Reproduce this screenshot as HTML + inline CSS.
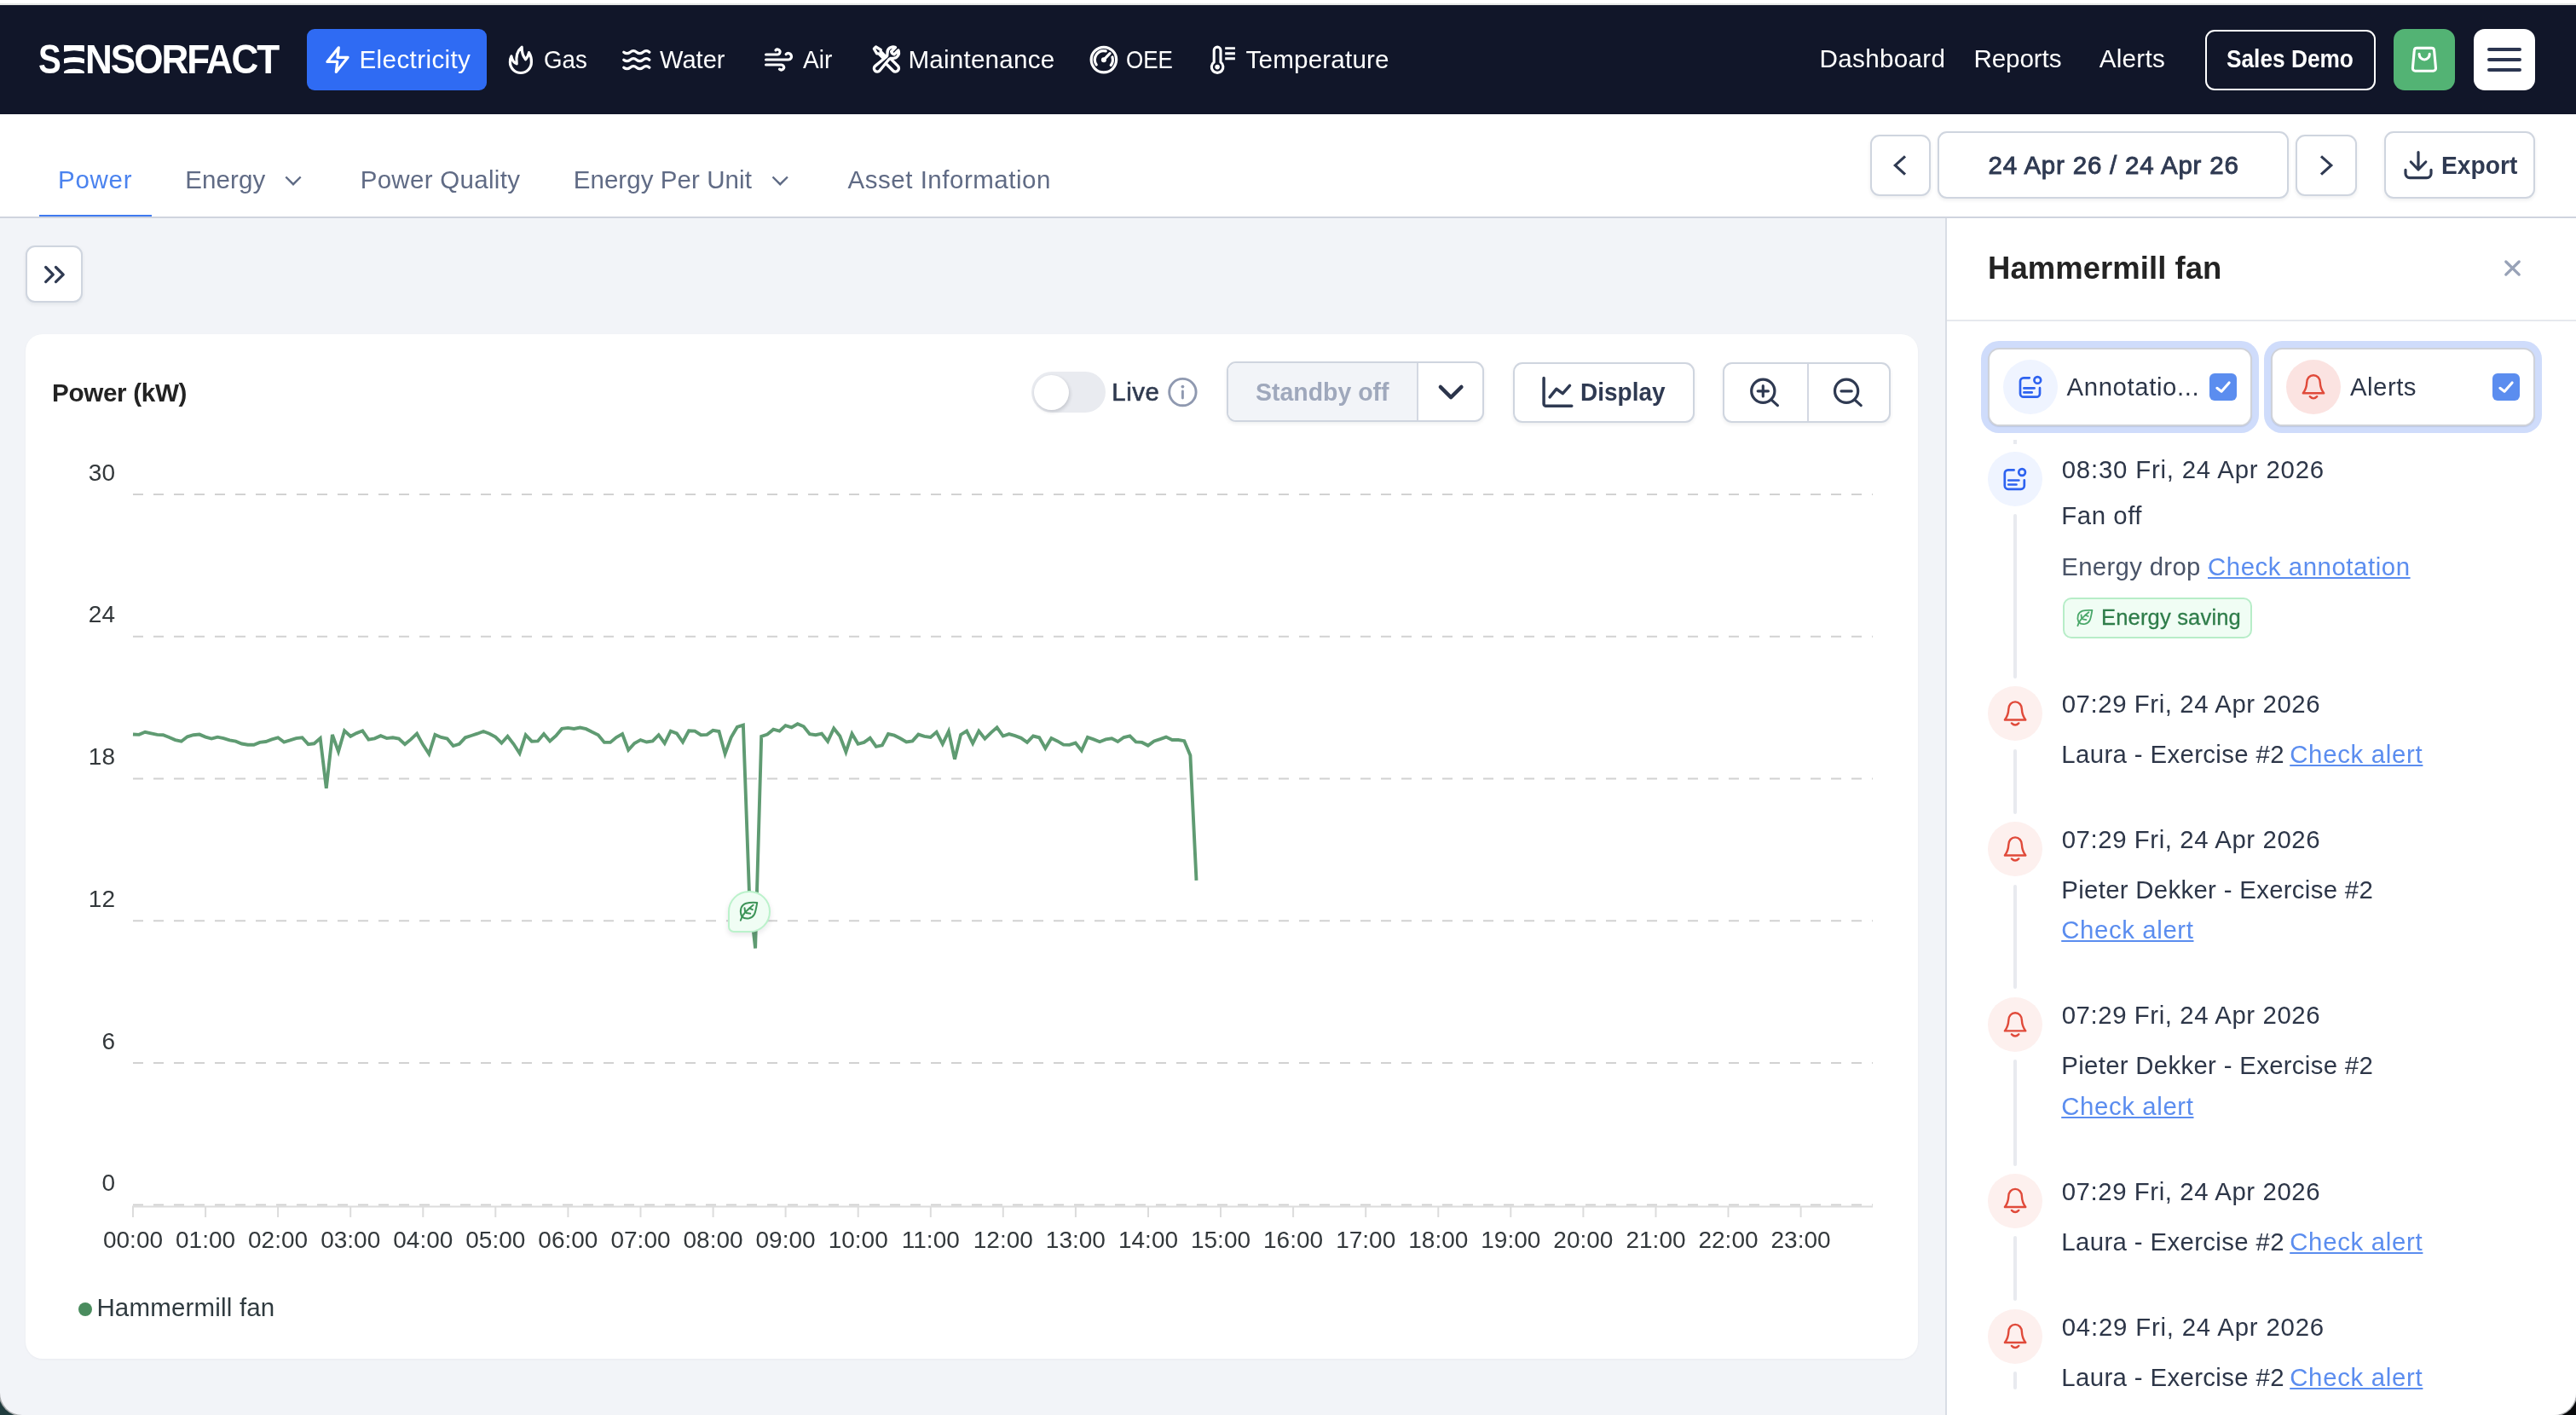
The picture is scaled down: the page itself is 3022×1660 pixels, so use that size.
<!DOCTYPE html><html><head><meta charset="utf-8"><title>Sensorfact</title><style>

*{box-sizing:border-box;margin:0;padding:0}
html,body{width:3022px;height:1660px;overflow:hidden;background:linear-gradient(90deg,#213d3f 0,#1a2f33 3%,#0b0d10 60%,#08090b 100%)}
body{font-family:"Liberation Sans",sans-serif;position:relative}
.abs{position:absolute}
#win{will-change:transform;position:absolute;left:0;top:0;width:3022px;height:1660px;overflow:hidden;background:#f2f4f8;border-radius:0 0 26px 26px;box-shadow:0 0 0 1.6px #a9abad}
.t{position:absolute;white-space:nowrap;line-height:1}
.u{text-decoration:underline;text-decoration-thickness:2px;text-underline-offset:2.4px}
.btn{position:absolute;background:#fff;border:2px solid #cfd5df;border-radius:11px;box-shadow:0 2px 4px rgba(16,24,40,.07)}
.ring{position:absolute;border-radius:21px;background:#cfdcfb}
.card{position:absolute;background:#fff;border:2px solid #cfd2d9;border-radius:13.5px;box-shadow:0 1px 1px rgba(16,24,40,.10)}
.circ{position:absolute;width:64px;height:64px;border-radius:50%}
.vl{position:absolute;left:2361.5px;width:4px;background:#e8eaef;border-radius:2px}
.cb{position:absolute;width:32px;height:32px;border-radius:6px;background:#5b8def}
svg{position:absolute;overflow:visible}
.ic{fill:none;stroke-linecap:round;stroke-linejoin:round}

</style></head><body><div id="win">
<div class="abs" style="left:0;top:0;width:3022px;height:6px;background:linear-gradient(#fff 0,#fff 3.8px,#e3e5e3 4.2px,#e6e8e6 5.6px,#050a1c 6px)"></div>
<div class="abs" style="left:0;top:6px;width:3022px;height:128px;background:#111629"></div>
<div class="abs" style="left:360px;top:34px;width:211px;height:72px;background:#2f6bf3;border-radius:9px"></div>
<div class="abs" style="left:2587px;top:34.5px;width:200px;height:71px;border:2.5px solid #fff;border-radius:11px"></div>
<div class="abs" style="left:2808px;top:34px;width:72px;height:72px;background:#53b374;border-radius:13px"></div>
<div class="abs" style="left:2902px;top:34px;width:72px;height:72px;background:#fff;border-radius:13px"></div>
<div class="abs" style="left:2918px;top:56.1px;width:40px;height:4.4px;background:#2b3550;border-radius:2px"></div>
<div class="abs" style="left:2918px;top:68.0px;width:40px;height:4.4px;background:#2b3550;border-radius:2px"></div>
<div class="abs" style="left:2918px;top:79.9px;width:40px;height:4.4px;background:#2b3550;border-radius:2px"></div>
<div class="abs" style="left:0;top:134px;width:3022px;height:121.9px;background:#fff;border-bottom:2px solid #cfd4de"></div>
<div class="abs" style="left:46px;top:251.8px;width:132px;height:2.2px;background:#3f7af0"></div>
<div class="btn" style="left:2193.5px;top:158.3px;width:71.2px;height:71.4px"></div>
<div class="btn" style="left:2273.3px;top:154.2px;width:411.3px;height:79.3px"></div>
<div class="btn" style="left:2693.4px;top:158.3px;width:71.2px;height:71.4px"></div>
<div class="btn" style="left:2797.4px;top:154.2px;width:176.2px;height:79.3px"></div>
<div class="btn" style="left:30.4px;top:288.4px;width:66.9px;height:66.9px"></div>
<div class="abs" style="left:30px;top:392px;width:2219.8px;height:1201.5px;background:#fff;border-radius:20px;box-shadow:0 1px 3px rgba(16,24,40,.04)"></div>
<div class="abs" style="left:1209.5px;top:436px;width:87px;height:48px;border-radius:24px;background:#e9ebf0"></div>
<div class="abs" style="left:1212.5px;top:439.5px;width:41px;height:41px;border-radius:50%;background:#fff;box-shadow:1px 2px 4px rgba(16,24,40,.18)"></div>
<div class="btn" style="left:1439.2px;top:424.2px;width:302.2px;height:71.3px;overflow:hidden"><div style="position:absolute;left:0;top:0;width:223.3px;height:100%;background:#f2f4f8;border-right:2px solid #d3d8e2"></div></div>
<div class="btn" style="left:1774.5px;top:424.5px;width:213.5px;height:71px"></div>
<div class="btn" style="left:2020.5px;top:424.5px;width:197px;height:71px"><div style="position:absolute;left:97px;top:0;width:2px;height:100%;background:#d3d8e2"></div></div>
<div class="abs" style="left:92px;top:1528px;width:16px;height:16px;border-radius:50%;background:#4a8c5e"></div>
<div class="abs" style="left:2281.5px;top:255.9px;width:741px;height:1405px;background:#fff;border-left:2.5px solid #d9dde5"></div>
<div class="abs" style="left:2284px;top:374.5px;width:738px;height:2.5px;background:#e6e9ee"></div>
<div class="ring" style="left:2323.9px;top:400.1px;width:326px;height:107.8px"></div>
<div class="ring" style="left:2655.9px;top:400.1px;width:326px;height:107.8px"></div>
<div class="card" style="left:2331.9px;top:408.1px;width:310px;height:91.8px"></div>
<div class="card" style="left:2663.9px;top:408.1px;width:310px;height:91.8px"></div>
<div class="circ" style="left:2350px;top:422px;background:#eff4ff"></div>
<div class="circ" style="left:2682px;top:422px;background:#fbe3e1"></div>
<div class="cb" style="left:2592px;top:438px"></div>
<div class="cb" style="left:2924px;top:438px"></div>
<div class="vl" style="top:516.0px;height:4.7px;border-radius:0"></div>
<div class="vl" style="top:603.0px;height:193.0px"></div>
<div class="vl" style="top:878.7px;height:76.3px"></div>
<div class="vl" style="top:1037.7px;height:122.8px"></div>
<div class="vl" style="top:1243.2px;height:125.1px"></div>
<div class="vl" style="top:1450.1px;height:76.3px"></div>
<div class="vl" style="top:1609.0px;height:21.3px"></div>
<div class="circ" style="left:2331.5px;top:530px;background:#eff4ff"></div>
<div class="circ" style="left:2331.5px;top:805.1px;background:#fdf0ee"></div>
<div class="circ" style="left:2331.5px;top:964.1px;background:#fdf0ee"></div>
<div class="circ" style="left:2331.5px;top:1170.0px;background:#fdf0ee"></div>
<div class="circ" style="left:2331.5px;top:1376.6px;background:#fdf0ee"></div>
<div class="circ" style="left:2331.5px;top:1535.6px;background:#fdf0ee"></div>
<div class="abs" style="left:2420px;top:701px;width:222px;height:47.7px;background:#f0fdf4;border:2px solid #b7edc8;border-radius:10px"></div>
<svg class="abs" style="left:0;top:0" width="2283" height="1660" viewBox="0 0 2283 1660">
<line x1="156" x2="2197" y1="580.0" y2="580.0" stroke="#d2d2d2" stroke-width="2" stroke-dasharray="12 12"/>
<line x1="156" x2="2197" y1="746.8" y2="746.8" stroke="#d2d2d2" stroke-width="2" stroke-dasharray="12 12"/>
<line x1="156" x2="2197" y1="913.5" y2="913.5" stroke="#d2d2d2" stroke-width="2" stroke-dasharray="12 12"/>
<line x1="156" x2="2197" y1="1080.3" y2="1080.3" stroke="#d2d2d2" stroke-width="2" stroke-dasharray="12 12"/>
<line x1="156" x2="2197" y1="1247.0" y2="1247.0" stroke="#d2d2d2" stroke-width="2" stroke-dasharray="12 12"/>
<line x1="156" x2="2197" y1="1413.5" y2="1413.5" stroke="#d2d2d2" stroke-width="2" stroke-dasharray="12 12"/>
<line x1="155" x2="2197" y1="1415.5" y2="1415.5" stroke="#dcdcdc" stroke-width="2"/>
<line x1="156.0" x2="156.0" y1="1415" y2="1428" stroke="#dcdcdc" stroke-width="2"/>
<line x1="241.1" x2="241.1" y1="1415" y2="1428" stroke="#dcdcdc" stroke-width="2"/>
<line x1="326.1" x2="326.1" y1="1415" y2="1428" stroke="#dcdcdc" stroke-width="2"/>
<line x1="411.2" x2="411.2" y1="1415" y2="1428" stroke="#dcdcdc" stroke-width="2"/>
<line x1="496.3" x2="496.3" y1="1415" y2="1428" stroke="#dcdcdc" stroke-width="2"/>
<line x1="581.3" x2="581.3" y1="1415" y2="1428" stroke="#dcdcdc" stroke-width="2"/>
<line x1="666.4" x2="666.4" y1="1415" y2="1428" stroke="#dcdcdc" stroke-width="2"/>
<line x1="751.5" x2="751.5" y1="1415" y2="1428" stroke="#dcdcdc" stroke-width="2"/>
<line x1="836.6" x2="836.6" y1="1415" y2="1428" stroke="#dcdcdc" stroke-width="2"/>
<line x1="921.6" x2="921.6" y1="1415" y2="1428" stroke="#dcdcdc" stroke-width="2"/>
<line x1="1006.7" x2="1006.7" y1="1415" y2="1428" stroke="#dcdcdc" stroke-width="2"/>
<line x1="1091.8" x2="1091.8" y1="1415" y2="1428" stroke="#dcdcdc" stroke-width="2"/>
<line x1="1176.8" x2="1176.8" y1="1415" y2="1428" stroke="#dcdcdc" stroke-width="2"/>
<line x1="1261.9" x2="1261.9" y1="1415" y2="1428" stroke="#dcdcdc" stroke-width="2"/>
<line x1="1347.0" x2="1347.0" y1="1415" y2="1428" stroke="#dcdcdc" stroke-width="2"/>
<line x1="1432.0" x2="1432.0" y1="1415" y2="1428" stroke="#dcdcdc" stroke-width="2"/>
<line x1="1517.1" x2="1517.1" y1="1415" y2="1428" stroke="#dcdcdc" stroke-width="2"/>
<line x1="1602.2" x2="1602.2" y1="1415" y2="1428" stroke="#dcdcdc" stroke-width="2"/>
<line x1="1687.3" x2="1687.3" y1="1415" y2="1428" stroke="#dcdcdc" stroke-width="2"/>
<line x1="1772.3" x2="1772.3" y1="1415" y2="1428" stroke="#dcdcdc" stroke-width="2"/>
<line x1="1857.4" x2="1857.4" y1="1415" y2="1428" stroke="#dcdcdc" stroke-width="2"/>
<line x1="1942.5" x2="1942.5" y1="1415" y2="1428" stroke="#dcdcdc" stroke-width="2"/>
<line x1="2027.5" x2="2027.5" y1="1415" y2="1428" stroke="#dcdcdc" stroke-width="2"/>
<line x1="2112.6" x2="2112.6" y1="1415" y2="1428" stroke="#dcdcdc" stroke-width="2"/>
<polyline fill="none" stroke="#5f9b72" stroke-width="3.9" stroke-linejoin="miter" points="156.0,861.5 163.1,861.9 170.2,858.8 177.3,860.4 184.4,861.9 191.4,862.2 198.5,865.0 205.6,868.1 212.7,869.7 219.8,864.3 226.9,862.2 234.0,861.6 241.1,864.6 248.1,866.6 255.2,864.7 262.3,866.1 269.4,868.4 276.5,869.7 283.6,872.5 290.7,873.7 297.8,873.7 304.8,870.9 311.9,870.0 319.0,867.4 326.1,865.3 333.2,870.5 340.3,868.4 347.4,866.1 354.5,865.3 361.6,873.1 368.6,872.3 375.7,866.1 382.8,924.8 389.9,861.9 397.0,881.6 404.1,857.3 411.2,863.8 418.3,860.1 425.3,857.3 432.4,867.7 439.5,866.3 446.6,863.2 453.7,866.1 460.8,865.3 467.9,866.6 475.0,873.1 482.0,867.4 489.1,860.7 496.2,873.6 503.3,884.4 510.4,861.9 517.5,865.0 524.6,866.6 531.7,875.1 538.8,872.8 545.8,865.3 552.9,863.0 560.0,860.7 567.1,858.0 574.2,860.7 581.3,864.6 588.4,871.7 595.5,863.8 602.5,872.8 609.6,883.7 616.7,862.2 623.8,869.7 630.9,869.4 638.0,861.1 645.1,869.4 652.2,863.2 659.2,854.9 666.3,853.9 673.4,854.9 680.5,853.5 687.6,855.2 694.7,858.8 701.8,862.2 708.9,870.9 716.0,870.9 723.0,865.0 730.1,861.1 737.2,879.8 744.3,872.0 751.4,868.1 758.5,870.5 765.6,869.4 772.7,862.2 779.7,872.0 786.8,857.6 793.9,860.4 801.0,870.5 808.1,857.3 815.2,857.6 822.3,862.2 829.4,861.9 836.4,856.8 843.5,858.0 850.6,884.4 857.7,865.0 864.8,852.9 871.9,850.7 879.0,1048.0 886.1,1112.5 893.2,863.8 900.2,861.5 907.3,855.7 914.4,857.6 921.5,851.1 928.6,853.4 935.7,849.2 942.8,852.3 949.9,861.1 956.9,862.2 964.0,860.7 971.1,869.7 978.2,854.5 985.3,863.5 992.4,882.1 999.5,860.7 1006.6,872.8 1013.6,870.9 1020.7,865.8 1027.8,875.9 1034.9,874.3 1042.0,861.1 1049.1,862.7 1056.2,866.3 1063.3,870.5 1070.4,869.4 1077.4,861.6 1084.5,863.8 1091.6,865.0 1098.7,858.8 1105.8,872.8 1112.9,858.0 1120.0,890.7 1127.1,861.9 1134.1,857.6 1141.2,872.0 1148.3,857.6 1155.4,866.6 1162.5,859.6 1169.6,853.4 1176.7,863.5 1183.8,861.1 1190.8,863.2 1197.9,865.8 1205.0,870.9 1212.1,863.5 1219.2,865.3 1226.3,877.8 1233.4,866.1 1240.5,869.4 1247.6,873.6 1254.6,873.9 1261.7,871.6 1268.8,880.6 1275.9,865.0 1283.0,867.4 1290.1,870.2 1297.2,867.4 1304.3,866.3 1311.3,870.0 1318.4,865.0 1325.5,863.3 1332.6,870.4 1339.7,870.9 1346.8,874.6 1353.9,869.5 1361.0,867.2 1368.0,864.6 1375.1,868.0 1382.2,868.0 1389.3,869.2 1396.4,886.2 1403.5,1032.9"/>
<text x="135" y="563.5" text-anchor="end" font-size="28" fill="#33383b">30</text>
<text x="135" y="730.3" text-anchor="end" font-size="28" fill="#33383b">24</text>
<text x="135" y="897.0" text-anchor="end" font-size="28" fill="#33383b">18</text>
<text x="135" y="1063.8" text-anchor="end" font-size="28" fill="#33383b">12</text>
<text x="135" y="1230.5" text-anchor="end" font-size="28" fill="#33383b">6</text>
<text x="135" y="1397.0" text-anchor="end" font-size="28" fill="#33383b">0</text>
<text x="156.0" y="1464" text-anchor="middle" font-size="28" fill="#33383b">00:00</text>
<text x="241.1" y="1464" text-anchor="middle" font-size="28" fill="#33383b">01:00</text>
<text x="326.1" y="1464" text-anchor="middle" font-size="28" fill="#33383b">02:00</text>
<text x="411.2" y="1464" text-anchor="middle" font-size="28" fill="#33383b">03:00</text>
<text x="496.3" y="1464" text-anchor="middle" font-size="28" fill="#33383b">04:00</text>
<text x="581.3" y="1464" text-anchor="middle" font-size="28" fill="#33383b">05:00</text>
<text x="666.4" y="1464" text-anchor="middle" font-size="28" fill="#33383b">06:00</text>
<text x="751.5" y="1464" text-anchor="middle" font-size="28" fill="#33383b">07:00</text>
<text x="836.6" y="1464" text-anchor="middle" font-size="28" fill="#33383b">08:00</text>
<text x="921.6" y="1464" text-anchor="middle" font-size="28" fill="#33383b">09:00</text>
<text x="1006.7" y="1464" text-anchor="middle" font-size="28" fill="#33383b">10:00</text>
<text x="1091.8" y="1464" text-anchor="middle" font-size="28" fill="#33383b">11:00</text>
<text x="1176.8" y="1464" text-anchor="middle" font-size="28" fill="#33383b">12:00</text>
<text x="1261.9" y="1464" text-anchor="middle" font-size="28" fill="#33383b">13:00</text>
<text x="1347.0" y="1464" text-anchor="middle" font-size="28" fill="#33383b">14:00</text>
<text x="1432.0" y="1464" text-anchor="middle" font-size="28" fill="#33383b">15:00</text>
<text x="1517.1" y="1464" text-anchor="middle" font-size="28" fill="#33383b">16:00</text>
<text x="1602.2" y="1464" text-anchor="middle" font-size="28" fill="#33383b">17:00</text>
<text x="1687.3" y="1464" text-anchor="middle" font-size="28" fill="#33383b">18:00</text>
<text x="1772.3" y="1464" text-anchor="middle" font-size="28" fill="#33383b">19:00</text>
<text x="1857.4" y="1464" text-anchor="middle" font-size="28" fill="#33383b">20:00</text>
<text x="1942.5" y="1464" text-anchor="middle" font-size="28" fill="#33383b">21:00</text>
<text x="2027.5" y="1464" text-anchor="middle" font-size="28" fill="#33383b">22:00</text>
<text x="2112.6" y="1464" text-anchor="middle" font-size="28" fill="#33383b">23:00</text>
</svg>
<div class="abs" style="left:854px;top:1044.5px;width:49.5px;height:49.5px;background:#f0fdf4;border:2.5px solid #bbf2cb;border-radius:25px 25px 25px 7px;box-shadow:0 3px 6px rgba(16,24,40,.10)"></div>
<div class="t" style="left:45.47px;top:45.99px;font-size:47.38px;letter-spacing:0.000px;font-weight:700;color:#fff;transform:scaleX(0.8476);transform-origin:0 0;">S</div>
<div class="t" style="left:72.89px;top:45.99px;font-size:47.38px;letter-spacing:0.000px;font-weight:700;color:#fff;transform:scaleX(0.8470);transform-origin:0 0;">E</div>
<div class="t" style="left:99.65px;top:45.99px;font-size:47.38px;letter-spacing:-2.186px;font-weight:700;color:#fff;transform:scaleX(0.9300);transform-origin:0 0;">NSORFACT</div>
<div class="t" style="left:421.48px;top:55.30px;font-size:29.65px;letter-spacing:0.366px;font-weight:400;color:#fff;">Electricity</div>
<div class="t" style="left:637.90px;top:55.30px;font-size:29.65px;letter-spacing:0.000px;font-weight:400;color:#fff;transform:scaleX(0.9335);transform-origin:0 0;">Gas</div>
<div class="t" style="left:774.00px;top:55.30px;font-size:29.65px;letter-spacing:0.000px;font-weight:400;color:#fff;transform:scaleX(0.9816);transform-origin:0 0;">Water</div>
<div class="t" style="left:941.80px;top:55.30px;font-size:29.65px;letter-spacing:0.000px;font-weight:400;color:#fff;transform:scaleX(0.9476);transform-origin:0 0;">Air</div>
<div class="t" style="left:1065.48px;top:55.30px;font-size:29.65px;letter-spacing:0.194px;font-weight:400;color:#fff;">Maintenance</div>
<div class="t" style="left:1321.18px;top:55.30px;font-size:29.65px;letter-spacing:0.000px;font-weight:400;color:#fff;transform:scaleX(0.8770);transform-origin:0 0;">OEE</div>
<div class="t" style="left:1461.54px;top:55.30px;font-size:29.65px;letter-spacing:0.162px;font-weight:400;color:#fff;">Temperature</div>
<div class="t" style="left:2134.48px;top:54.20px;font-size:29.65px;letter-spacing:0.316px;font-weight:400;color:#fff;">Dashboard</div>
<div class="t" style="left:2315.48px;top:54.20px;font-size:29.65px;letter-spacing:-0.129px;font-weight:400;color:#fff;">Reports</div>
<div class="t" style="left:2462.80px;top:54.20px;font-size:29.65px;letter-spacing:0.227px;font-weight:400;color:#fff;">Alerts</div>
<div class="t" style="left:2611.59px;top:54.45px;font-size:29.36px;letter-spacing:0.000px;font-weight:700;color:#fff;transform:scaleX(0.8944);transform-origin:0 0;">Sales Demo</div>
<div class="t" style="left:68.09px;top:196.32px;font-size:29.51px;letter-spacing:0.701px;font-weight:400;color:#4b83ef;">Power</div>
<div class="t" style="left:217.29px;top:196.32px;font-size:29.51px;letter-spacing:0.081px;font-weight:400;color:#606b85;">Energy</div>
<div class="t" style="left:422.69px;top:196.32px;font-size:29.51px;letter-spacing:0.301px;font-weight:400;color:#606b85;">Power Quality</div>
<div class="t" style="left:672.69px;top:196.32px;font-size:29.51px;letter-spacing:0.065px;font-weight:400;color:#606b85;">Energy Per Unit</div>
<div class="t" style="left:994.60px;top:196.32px;font-size:29.51px;letter-spacing:0.515px;font-weight:400;color:#606b85;">Asset Information</div>
<div class="t" style="left:2332.62px;top:179.02px;font-size:29.51px;letter-spacing:0.802px;font-weight:400;color:#2f3a52;-webkit-text-stroke:0.90px #2f3a52;">24 Apr 26 / 24 Apr 26</div>
<div class="t" style="left:2864.24px;top:179.02px;font-size:29.51px;letter-spacing:0.000px;font-weight:700;color:#2f3a52;transform:scaleX(0.9555);transform-origin:0 0;">Export</div>
<div class="t" style="left:60.95px;top:446.20px;font-size:29.65px;letter-spacing:-0.324px;font-weight:700;color:#232323;">Power (kW)</div>
<div class="t" style="left:1304.29px;top:445.22px;font-size:29.51px;letter-spacing:0.522px;font-weight:400;color:#2f3a4f;-webkit-text-stroke:0.60px #2f3a4f;">Live</div>
<div class="t" style="left:1473.36px;top:445.22px;font-size:29.51px;letter-spacing:0.000px;font-weight:700;color:#9fa8bc;transform:scaleX(0.9646);transform-origin:0 0;">Standby off</div>
<div class="t" style="left:1854.25px;top:445.22px;font-size:29.51px;letter-spacing:0.000px;font-weight:700;color:#2f3a52;transform:scaleX(0.9486);transform-origin:0 0;">Display</div>
<div class="t" style="left:113.39px;top:1519.02px;font-size:29.51px;letter-spacing:0.182px;font-weight:400;color:#2f3a3f;">Hammermill fan</div>
<div class="t" style="left:2332.12px;top:297.32px;font-size:36.48px;letter-spacing:0.043px;font-weight:700;color:#232323;">Hammermill fan</div>
<div class="t" style="left:2424.60px;top:438.75px;font-size:29.36px;letter-spacing:0.593px;font-weight:400;color:#2d3648;">Annotatio...</div>
<div class="t" style="left:2757.00px;top:438.75px;font-size:29.36px;letter-spacing:0.494px;font-weight:400;color:#2d3648;">Alerts</div>
<div class="t" style="left:2418.68px;top:536.45px;font-size:29.36px;letter-spacing:0.807px;font-weight:400;color:#2d3648;">08:30 Fri, 24 Apr 2026</div>
<div class="t" style="left:2418.31px;top:590.45px;font-size:29.36px;letter-spacing:0.555px;font-weight:400;color:#2d3648;">Fan off</div>
<div class="t" style="left:2418.31px;top:649.85px;font-size:29.36px;letter-spacing:0.314px;font-weight:400;color:#4a5468;">Energy drop</div>
<div class="t u" style="left:2590.02px;top:649.85px;font-size:29.36px;letter-spacing:0.567px;font-weight:400;color:#5b8def;">Check annotation</div>
<div class="t" style="left:2465.00px;top:711.55px;font-size:25.58px;letter-spacing:0.145px;font-weight:400;color:#2f7d4a;-webkit-text-stroke:0.30px #2f7d4a;">Energy saving</div>
<div class="t" style="left:2418.68px;top:811.45px;font-size:29.36px;letter-spacing:0.588px;font-weight:400;color:#2d3648;">07:29 Fri, 24 Apr 2026</div>
<div class="t" style="left:2418.31px;top:870.35px;font-size:29.36px;letter-spacing:0.373px;font-weight:400;color:#2d3648;">Laura - Exercise #2</div>
<div class="t u" style="left:2686.22px;top:870.35px;font-size:29.36px;letter-spacing:0.698px;font-weight:400;color:#5b8def;">Check alert</div>
<div class="t" style="left:2418.68px;top:969.95px;font-size:29.36px;letter-spacing:0.588px;font-weight:400;color:#2d3648;">07:29 Fri, 24 Apr 2026</div>
<div class="t" style="left:2418.31px;top:1028.55px;font-size:29.36px;letter-spacing:0.313px;font-weight:400;color:#2d3648;">Pieter Dekker - Exercise #2</div>
<div class="t u" style="left:2418.22px;top:1076.25px;font-size:29.36px;letter-spacing:0.618px;font-weight:400;color:#5b8def;">Check alert</div>
<div class="t" style="left:2418.68px;top:1175.95px;font-size:29.36px;letter-spacing:0.588px;font-weight:400;color:#2d3648;">07:29 Fri, 24 Apr 2026</div>
<div class="t" style="left:2418.31px;top:1235.25px;font-size:29.36px;letter-spacing:0.313px;font-weight:400;color:#2d3648;">Pieter Dekker - Exercise #2</div>
<div class="t u" style="left:2418.22px;top:1283.15px;font-size:29.36px;letter-spacing:0.618px;font-weight:400;color:#5b8def;">Check alert</div>
<div class="t" style="left:2418.68px;top:1382.85px;font-size:29.36px;letter-spacing:0.588px;font-weight:400;color:#2d3648;">07:29 Fri, 24 Apr 2026</div>
<div class="t" style="left:2418.31px;top:1442.25px;font-size:29.36px;letter-spacing:0.373px;font-weight:400;color:#2d3648;">Laura - Exercise #2</div>
<div class="t u" style="left:2686.22px;top:1442.25px;font-size:29.36px;letter-spacing:0.698px;font-weight:400;color:#5b8def;">Check alert</div>
<div class="t" style="left:2418.68px;top:1541.85px;font-size:29.36px;letter-spacing:0.807px;font-weight:400;color:#2d3648;">04:29 Fri, 24 Apr 2026</div>
<div class="t" style="left:2418.31px;top:1601.25px;font-size:29.36px;letter-spacing:0.373px;font-weight:400;color:#2d3648;">Laura - Exercise #2</div>
<div class="t u" style="left:2686.22px;top:1601.25px;font-size:29.36px;letter-spacing:0.698px;font-weight:400;color:#5b8def;">Check alert</div>
<svg class="abs" style="left:0;top:0" width="400" height="134" viewBox="0 0 400 134" stroke="none"><path fill="#fff" d="M75 53.3 H98.9 V60.9 Q87 57.9 75 60.9 Z M75 69.1 Q87 64.9 98.9 69.1 V74.8 Q87 71.4 75 74.8 Z M75 84 Q87 77.2 98.9 84 V85.9 H75 Z"/><path fill="#111629" d="M73.5 60.9 Q87 57.9 100.3 60.9 V69.1 Q87 64.9 73.5 69.1 Z M73.5 74.8 Q87 71.4 100.3 74.8 V84 Q87 77.2 73.5 84 Z"/></svg>
<svg class="abs ic" style="left:0;top:0" width="3022" height="1660" viewBox="0 0 3022 1660" stroke="#fff" stroke-width="3.2" ><path d="M397.3 55.8 L383.9 72.4 H395.8 L394.3 84.4 L408.1 67.3 H396 Z" stroke="#fff" stroke-width="3.2"/><path d="M599.9 66 C600.5 70 603 73.5 606.2 74.9 C605 66 607.5 59 612.2 55.3 C612 61 613.5 66 616.6 69.7 C619 67 620 64.5 620.5 61.7 C622.5 65 623.6 69 623.4 73 A12.5 12.5 0 0 1 598.4 73 C598.2 70.3 598.8 68 599.9 66 Z" stroke="#fff" stroke-width="3.2"/><g transform="translate(728.80 52.20) scale(1.5000)" stroke="#fff" stroke-width="2.150"><path d="M2 6c.6.5 1.2 1 2.5 1C7 7 7 5 9.5 5c2.6 0 2.4 2 5 2 2.5 0 2.5-2 5-2 1.3 0 1.9.5 2.5 1"/><path d="M2 12c.6.5 1.2 1 2.5 1 2.5 0 2.5-2 5-2 2.6 0 2.4 2 5 2 2.5 0 2.5-2 5-2 1.3 0 1.9.5 2.5 1"/><path d="M2 18c.6.5 1.2 1 2.5 1 2.5 0 2.5-2 5-2 2.6 0 2.4 2 5 2 2.5 0 2.5-2 5-2 1.3 0 1.9.5 2.5 1"/></g><g transform="translate(895.60 52.00) scale(1.5000)" stroke="#fff" stroke-width="2.150"><path d="M17.7 7.7a2.5 2.5 0 1 1 1.8 4.3H2"/><path d="M9.6 4.6A2 2 0 1 1 11 8H2"/><path d="M12.6 19.4A2 2 0 1 0 14 16H2"/></g><g transform="translate(1022.00 51.65) scale(1.4917)" stroke="#fff" stroke-width="2.250"><path d="M11.42 15.17L17.25 21A2.652 2.652 0 0021 17.25l-5.877-5.877M11.42 15.17l2.496-3.03c.317-.384.74-.626 1.208-.766M11.42 15.17l-4.655 5.653a2.548 2.548 0 11-3.586-3.586l6.837-5.63m5.108-.233c.55-.164 1.163-.188 1.743-.14a4.5 4.5 0 004.486-6.336l-3.276 3.277a3.004 3.004 0 01-2.25-2.25l3.276-3.276a4.5 4.5 0 00-6.336 4.486c.091 1.076-.071 2.264-.904 2.95l-.102.085m-1.745 1.437L5.909 7.5H4.5L2.25 3.75l1.5-1.5L7.5 4.5v1.409l4.26 4.26m-1.745 1.437l1.745-1.437"/></g><circle cx="1294.9" cy="70.1" r="14.75" stroke="#fff" stroke-width="3.2"/><path d="M1286.20 75.97 A10.5 10.5 0 0 1 1297.26 59.87" stroke="#fff" stroke-width="3.2"/><path d="M1304.91 66.94 A10.5 10.5 0 0 1 1303.23 76.49" stroke="#fff" stroke-width="3.2"/><path d="M1294.9 70.1 L1302.1 62.7" stroke="#fff" stroke-width="3.2"/><circle cx="1294.9" cy="70.3" r="3" fill="#fff" stroke="none"/><path d="M1424.2 59 A3.9 3.9 0 0 1 1432.0 59 V73.03 A6.8 6.8 0 1 1 1424.2 73.03 Z" stroke="#fff" stroke-width="3.1"/><circle cx="1428.1" cy="78.6" r="2.8" fill="#fff" stroke="none"/><path d="M1437.2 56.6 H1448.9" stroke="#fff" stroke-width="2.9" stroke-linecap="butt"/><path d="M1437.2 62.7 H1448.9" stroke="#fff" stroke-width="2.9" stroke-linecap="butt"/><path d="M1437.2 68.7 H1448.9" stroke="#fff" stroke-width="2.9" stroke-linecap="butt"/><path d="M2835.3 56.4 H2852.6 A3 3 0 0 1 2855.6 59.2 L2857.5 80 A3 3 0 0 1 2854.5 83.2 H2833.4 A3 3 0 0 1 2830.4 80 L2832.3 59.2 A3 3 0 0 1 2835.3 56.4 Z" stroke="#fff" stroke-width="3.1"/><path d="M2838.1 63.4 A6.05 6.6 0 0 0 2850.2 63.4" stroke="#fff" stroke-width="3.1"/><path d="M335.3 207.5 l8.7 8.7 l8.7 -8.7" stroke="#5f6b85" stroke-width="2.4" stroke-linecap="butt" stroke-linejoin="miter"/><path d="M906.5 207.5 l8.7 8.7 l8.7 -8.7" stroke="#5f6b85" stroke-width="2.4" stroke-linecap="butt" stroke-linejoin="miter"/><path d="M2235 183.3 L2223.3 193.9 L2235 204.6" stroke="#2f3a52" stroke-width="3.1" stroke-linecap="butt" stroke-linejoin="miter"/><path d="M2723 183.3 L2734.8 193.9 L2723 204.6" stroke="#2f3a52" stroke-width="3.1" stroke-linecap="butt" stroke-linejoin="miter"/><path d="M2837 178.5 V199 M2828.3 190 L2837 199 L2845.8 190 M2822 199.3 V203.6 A5 5 0 0 0 2827 208.6 H2847 A5 5 0 0 0 2852 203.6 V199.3" stroke="#2f3a52" stroke-width="3.2"/><path d="M53.7 313.5 L62.3 322.1 L53.7 330.6 M65.5 313.5 L74.2 322.1 L65.5 330.6" stroke="#2f3a52" stroke-width="3.3"/><circle cx="1387.4" cy="460.1" r="15.7" stroke="#8f99b0" stroke-width="2.9"/><path d="M1387.4 459 V467" stroke="#8f99b0" stroke-width="2.9"/><circle cx="1387.4" cy="453.6" r="1.9" fill="#8f99b0" stroke="none"/><path d="M1689.8 453.9 L1702.1 466.1 L1714.5 453.9" stroke="#2b344b" stroke-width="4.3"/><path d="M1811.1 443.6 V473.7 A2.6 2.6 0 0 0 1813.7 476.3 H1843.8 M1818.1 465.8 L1825.8 456.3 L1833.3 461.6 L1841.5 452.3" stroke="#2f3a52" stroke-width="3.5"/><circle cx="2068.3" cy="458.8" r="13.6" stroke="#2f3a52" stroke-width="3.2"/><path d="M2077.9 468.9 L2085.4 475.6" stroke="#2f3a52" stroke-width="3.2"/><path d="M2062.2 458.8 H2074.4" stroke="#2f3a52" stroke-width="3.2"/><path d="M2068.3 452.7 V464.9" stroke="#2f3a52" stroke-width="3.2"/><circle cx="2166.1" cy="458.8" r="13.6" stroke="#2f3a52" stroke-width="3.2"/><path d="M2175.7 468.9 L2183.2 475.6" stroke="#2f3a52" stroke-width="3.2"/><path d="M2160.0 458.8 H2172.2" stroke="#2f3a52" stroke-width="3.2"/><path d="M2939.8 307 L2955.2 322.1 M2955.2 307 L2939.8 322.1" stroke="#98a2b7" stroke-width="3.3"/><g transform="translate(2382.1 453.9)" stroke="#2d62f0" stroke-width="2.7"><path d="M-1.3 -10.6 H-8.1 A4 4 0 0 0 -12.1 -6.6 V7.8 A4 4 0 0 0 -8.1 11.8 H6.9 A4 4 0 0 0 10.9 7.8 V1.3"/><circle cx="8.2" cy="-8" r="3.85"/><path d="M-7.7 1.5 H4.5 M-7.7 6.5 H1.6"/></g><g transform="translate(2714.0 453.9)" stroke="#e04a3a" stroke-width="2.4"><path d="M-12.2 7.4 C-9.2 3.5 -8 -0.5 -7.8 -5 C-7.8 -10 -4.5 -13.7 0 -13.7 C4.5 -13.7 7.8 -10 7.8 -5 C8 -0.5 9.2 3.5 12.2 7.4 Z"/><path d="M-4.2 11.3 Q0 15.6 4.2 11.3"/></g><path d="M2600.9 455.3 l5.2 3.9 l9 -10.3" stroke="#fff" stroke-width="3.1"/><path d="M2932.9 455.3 l5.2 3.9 l9 -10.3" stroke="#fff" stroke-width="3.1"/><g transform="translate(2363.9 562.0)" stroke="#2d62f0" stroke-width="2.7"><path d="M-1.3 -10.6 H-8.1 A4 4 0 0 0 -12.1 -6.6 V7.8 A4 4 0 0 0 -8.1 11.8 H6.9 A4 4 0 0 0 10.9 7.8 V1.3"/><circle cx="8.2" cy="-8" r="3.85"/><path d="M-7.7 1.5 H4.5 M-7.7 6.5 H1.6"/></g><g transform="translate(2364.1 837.1)" stroke="#e04a3a" stroke-width="2.4"><path d="M-12.2 7.4 C-9.2 3.5 -8 -0.5 -7.8 -5 C-7.8 -10 -4.5 -13.7 0 -13.7 C4.5 -13.7 7.8 -10 7.8 -5 C8 -0.5 9.2 3.5 12.2 7.4 Z"/><path d="M-4.2 11.3 Q0 15.6 4.2 11.3"/></g><g transform="translate(2364.1 996.1)" stroke="#e04a3a" stroke-width="2.4"><path d="M-12.2 7.4 C-9.2 3.5 -8 -0.5 -7.8 -5 C-7.8 -10 -4.5 -13.7 0 -13.7 C4.5 -13.7 7.8 -10 7.8 -5 C8 -0.5 9.2 3.5 12.2 7.4 Z"/><path d="M-4.2 11.3 Q0 15.6 4.2 11.3"/></g><g transform="translate(2364.1 1202.0)" stroke="#e04a3a" stroke-width="2.4"><path d="M-12.2 7.4 C-9.2 3.5 -8 -0.5 -7.8 -5 C-7.8 -10 -4.5 -13.7 0 -13.7 C4.5 -13.7 7.8 -10 7.8 -5 C8 -0.5 9.2 3.5 12.2 7.4 Z"/><path d="M-4.2 11.3 Q0 15.6 4.2 11.3"/></g><g transform="translate(2364.1 1408.6)" stroke="#e04a3a" stroke-width="2.4"><path d="M-12.2 7.4 C-9.2 3.5 -8 -0.5 -7.8 -5 C-7.8 -10 -4.5 -13.7 0 -13.7 C4.5 -13.7 7.8 -10 7.8 -5 C8 -0.5 9.2 3.5 12.2 7.4 Z"/><path d="M-4.2 11.3 Q0 15.6 4.2 11.3"/></g><g transform="translate(2364.1 1567.6)" stroke="#e04a3a" stroke-width="2.4"><path d="M-12.2 7.4 C-9.2 3.5 -8 -0.5 -7.8 -5 C-7.8 -10 -4.5 -13.7 0 -13.7 C4.5 -13.7 7.8 -10 7.8 -5 C8 -0.5 9.2 3.5 12.2 7.4 Z"/><path d="M-4.2 11.3 Q0 15.6 4.2 11.3"/></g><g transform="translate(2437.20 715.90) scale(1.000) translate(-12.2 -10.9)" stroke="#4aa86a" stroke-width="1.80"><path d="M29.4 10.9 C24 10.6 20.5 10.9 18.1 11.6 C15 12.7 13.6 14.4 12.9 16.6 C12.1 19.2 12.2 22 13.6 24.9 C15.5 27 18.5 27.4 21.2 26.9 C23.6 26.4 25.4 25 26.6 22.8 C27.8 20.4 28.4 17 29.4 10.9 Z"/><path d="M12.4 29.1 C13 27.4 13.6 25.8 14.7 24 C16.2 21.5 17.9 19.8 19.8 18.1 C21.6 16.4 23.4 14.9 25.4 13.3"/><path d="M17 19.9 L16.5 16.3"/><path d="M18.2 21.4 L22.4 22.1"/><path d="M21.6 16.6 L24.7 18"/></g><g transform="translate(868.60 1059.00) scale(1.140) translate(-12.2 -10.9)" stroke="#3d9458" stroke-width="1.75"><path d="M29.4 10.9 C24 10.6 20.5 10.9 18.1 11.6 C15 12.7 13.6 14.4 12.9 16.6 C12.1 19.2 12.2 22 13.6 24.9 C15.5 27 18.5 27.4 21.2 26.9 C23.6 26.4 25.4 25 26.6 22.8 C27.8 20.4 28.4 17 29.4 10.9 Z"/><path d="M12.4 29.1 C13 27.4 13.6 25.8 14.7 24 C16.2 21.5 17.9 19.8 19.8 18.1 C21.6 16.4 23.4 14.9 25.4 13.3"/><path d="M17 19.9 L16.5 16.3"/><path d="M18.2 21.4 L22.4 22.1"/><path d="M21.6 16.6 L24.7 18"/></g></svg>
</div><script>(function(){var w=window.innerWidth||0;if(w>0&&Math.abs(w-3022)>2){document.documentElement.style.zoom=w/3022}})();</script></body></html>
